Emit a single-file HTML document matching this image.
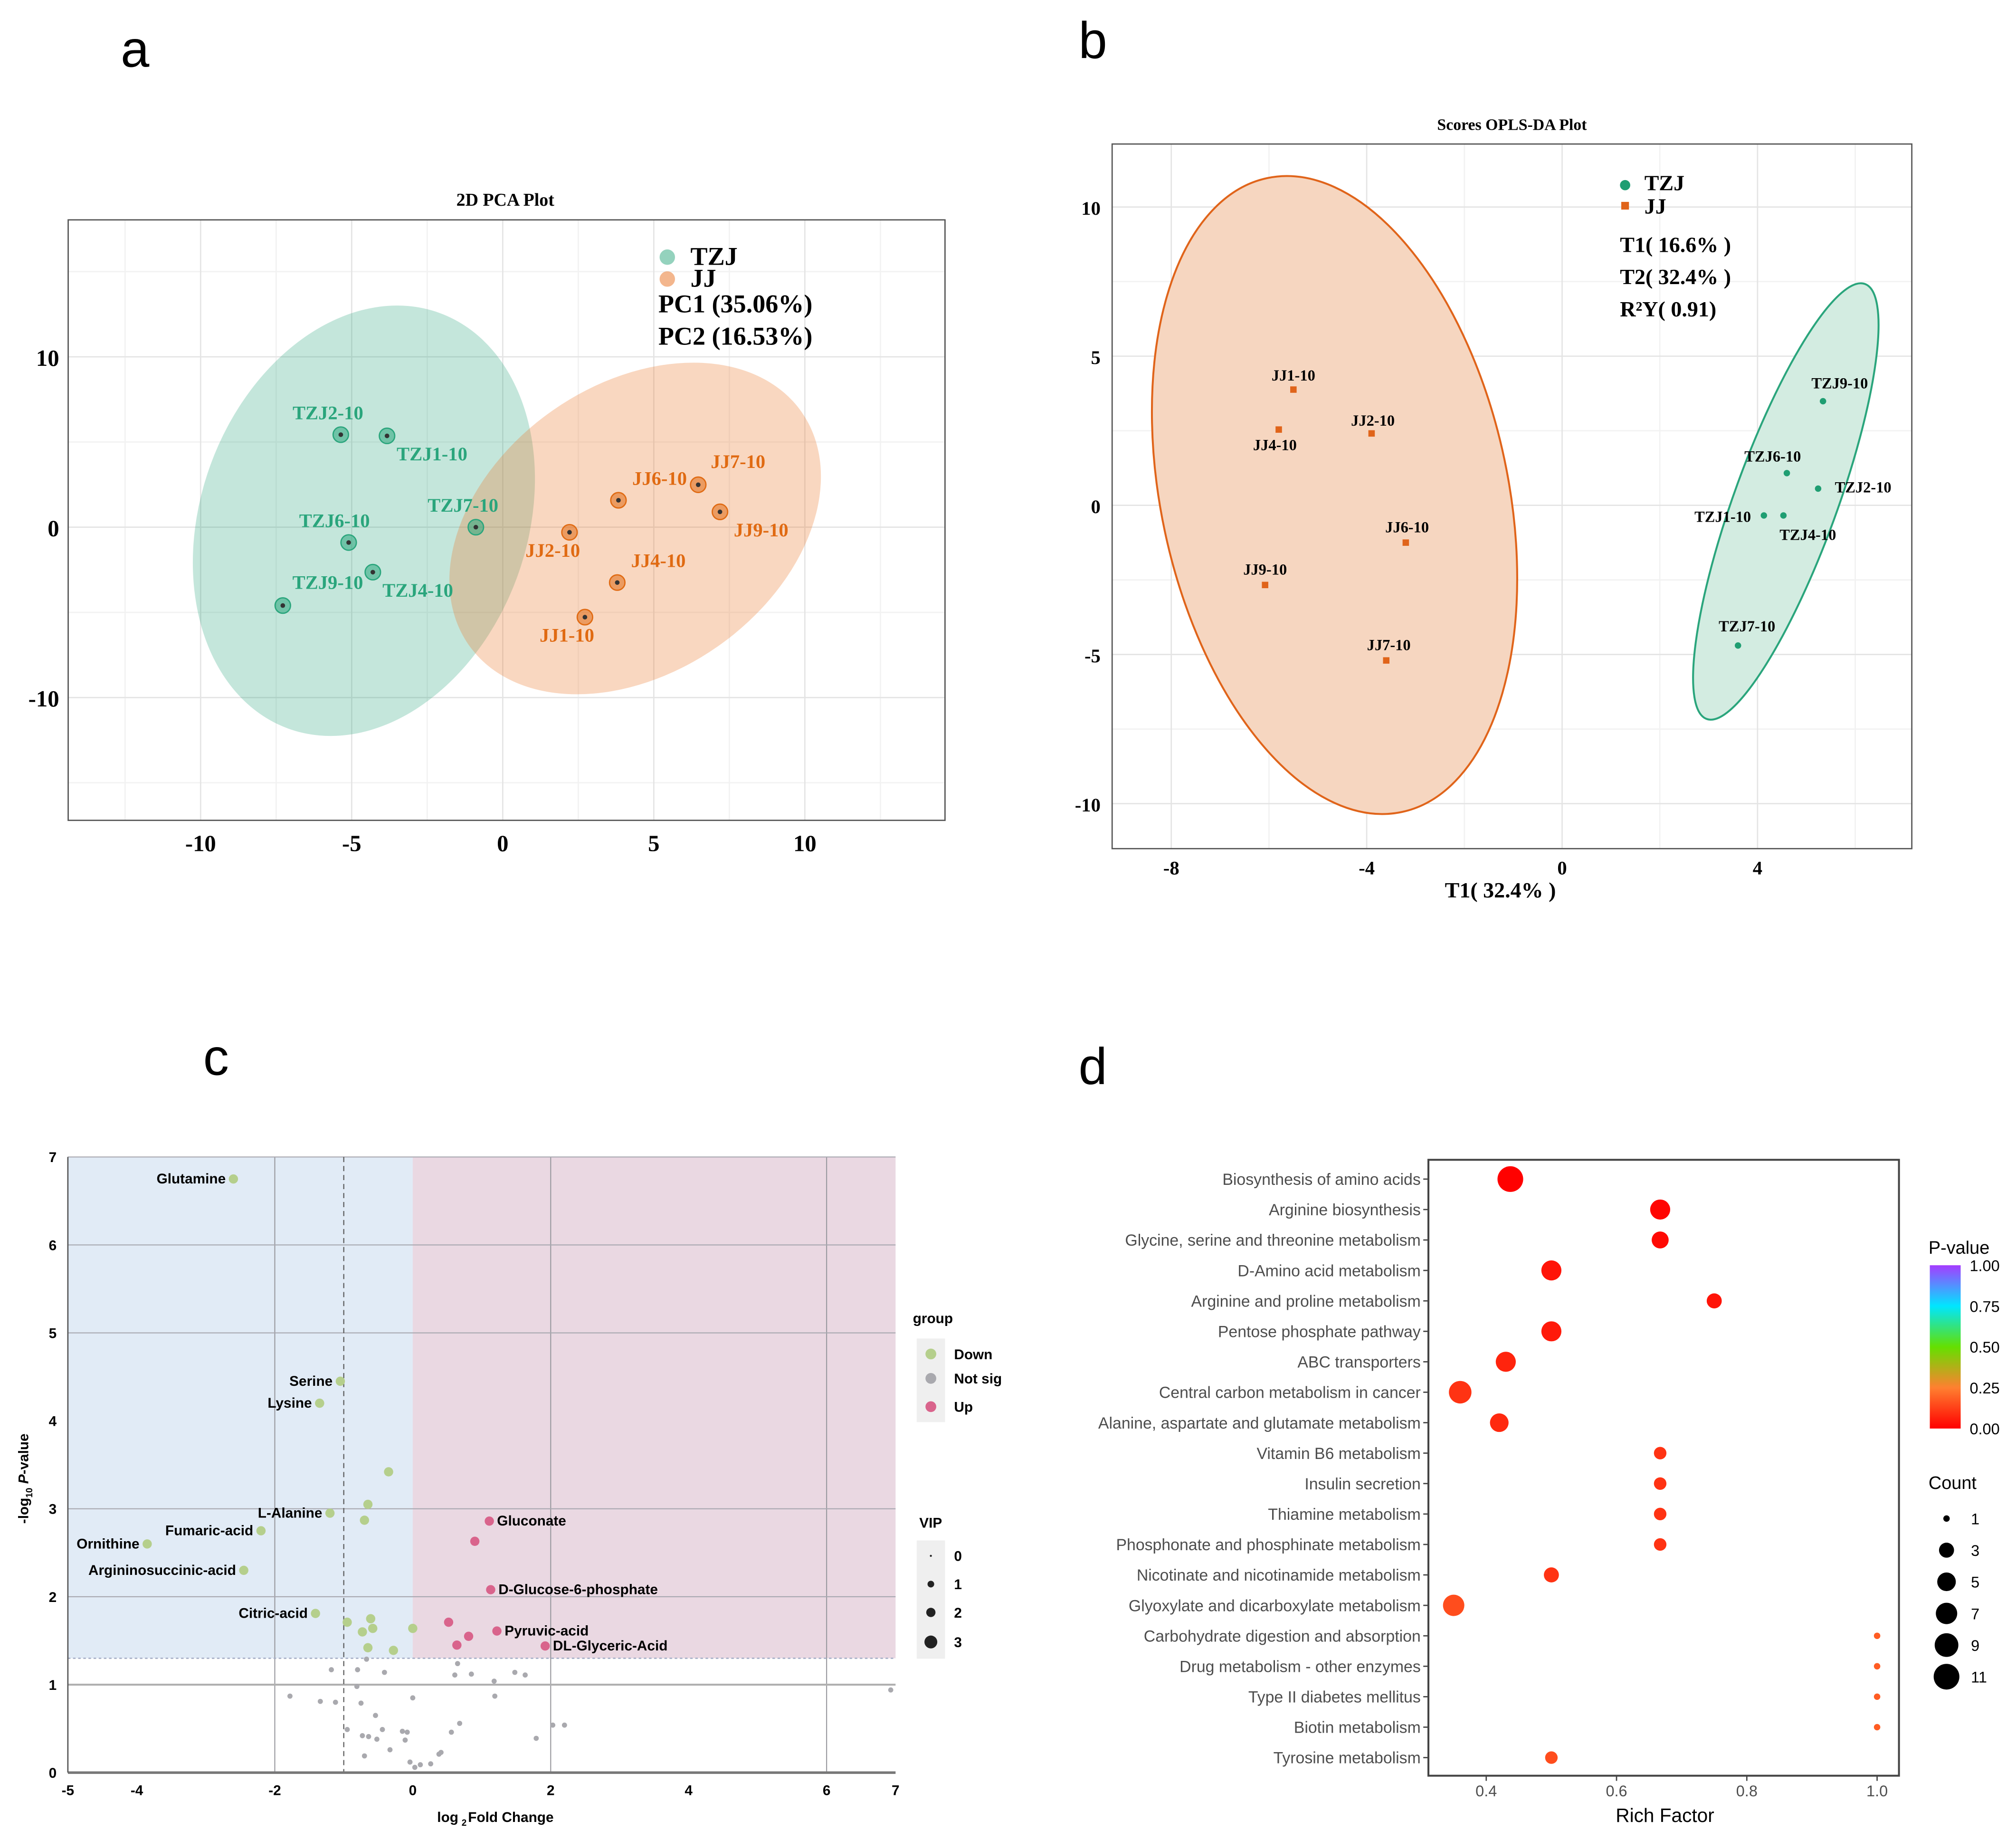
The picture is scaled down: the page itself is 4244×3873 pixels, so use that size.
<!DOCTYPE html>
<html><head><meta charset="utf-8"><style>
html,body{margin:0;padding:0;background:#fff}
svg{display:block}
.ser{font-family:"Liberation Serif",serif;font-weight:bold}
.san{font-family:"Liberation Sans",sans-serif}
</style></head><body>
<svg id="fig" width="4244" height="3873" viewBox="0 0 1568 1431" xmlns="http://www.w3.org/2000/svg">
<rect width="1568" height="1431" fill="#fff"/>
</svg>
<script>
// ---------- Panel a data (PCA) ----------
const pcaNames = ["TZJ2-10","TZJ1-10","TZJ7-10","TZJ6-10","TZJ4-10","TZJ9-10","JJ6-10","JJ7-10","JJ9-10","JJ2-10","JJ4-10","JJ1-10"];
const pcaGroup = ["TZJ","TZJ","TZJ","TZJ","TZJ","TZJ","JJ","JJ","JJ","JJ","JJ","JJ"];
const pcaPC1 = [-5.36,-3.83,-0.89,-5.1,-4.3,-7.28,3.83,6.47,7.19,2.21,3.79,2.72];
const pcaPC2 = [5.43,5.36,0.0,-0.9,-2.64,-4.6,1.58,2.49,0.9,-0.3,-3.25,-5.28];
const pcaXTicks = [-10,-5,0,5,10];
const pcaYTicks = [-10,0,10];
// ---------- Panel b data (OPLS-DA) ----------
const oplsNames = ["JJ1-10","JJ4-10","JJ2-10","JJ6-10","JJ9-10","JJ7-10","TZJ9-10","TZJ6-10","TZJ2-10","TZJ1-10","TZJ4-10","TZJ7-10"];
const oplsGroup = ["JJ","JJ","JJ","JJ","JJ","JJ","TZJ","TZJ","TZJ","TZJ","TZJ","TZJ"];
const oplsT1 = [-5.5,-5.8,-3.9,-3.2,-6.08,-3.6,5.34,4.6,5.24,4.13,4.53,3.6];
const oplsT2 = [3.88,2.54,2.41,-1.25,-2.67,-5.2,3.49,1.08,0.56,-0.34,-0.34,-4.7];
const oplsXTicks = [-8,-4,0,4];
const oplsYTicks = [-10,-5,0,5,10];
// ---------- Panel c data (volcano) ----------
const volLabels = ["Glutamine","Serine","Lysine","","","L-Alanine","","Fumaric-acid","Ornithine","Argininosuccinic-acid","Citric-acid","","","","","","","",
 "Gluconate","","D-Glucose-6-phosphate","","Pyruvic-acid","","","DL-Glyceric-Acid"];
const volGroup = ["Down","Down","Down","Down","Down","Down","Down","Down","Down","Down","Down","Down","Down","Down","Down","Down","Down","Down",
 "Up","Up","Up","Up","Up","Up","Up","Up"];
const volFC = [-2.6,-1.05,-1.35,-0.35,-0.65,-1.2,-0.7,-2.2,-3.85,-2.45,-1.41,-0.95,-0.61,-0.73,-0.58,0.0,-0.65,-0.28,
 1.11,0.9,1.13,0.52,1.22,0.81,0.64,1.92];
const volP = [6.75,4.45,4.2,3.42,3.05,2.95,2.87,2.75,2.6,2.3,1.81,1.71,1.75,1.6,1.64,1.64,1.42,1.39,
 2.86,2.63,2.08,1.71,1.61,1.55,1.45,1.44];
const nsFC = [-0.67,0.65,-1.18,-0.8,-0.41,0.61,0.85,1.48,1.63,1.18,-0.81,6.93,-1.78,0,1.19,-1.34,-1.12,-0.75,-0.54,0.68,2.03,2.2,-0.95,-0.44,-0.15,-0.08,0.56,-0.73,-0.64,-0.52,-0.11,1.79,-0.33,0.41,0.38,-0.7,-0.04,0.11,0.26,0.03];
const nsP = [1.29,1.24,1.17,1.17,1.14,1.11,1.12,1.14,1.11,1.04,0.98,0.94,0.87,0.85,0.87,0.81,0.8,0.79,0.65,0.56,0.54,0.54,0.49,0.49,0.47,0.46,0.46,0.42,0.41,0.38,0.37,0.39,0.26,0.23,0.21,0.19,0.12,0.09,0.1,0.06];
const volXTicks = [-5,-4,-2,0,2,4,6,7];
const volYTicks = [0,1,2,3,4,5,6,7];
// ---------- Panel d data (KEGG enrichment) ----------
const keggPath = ["Biosynthesis of amino acids","Arginine biosynthesis","Glycine, serine and threonine metabolism","D-Amino acid metabolism","Arginine and proline metabolism","Pentose phosphate pathway","ABC transporters","Central carbon metabolism in cancer","Alanine, aspartate and glutamate metabolism","Vitamin B6 metabolism","Insulin secretion","Thiamine metabolism","Phosphonate and phosphinate metabolism","Nicotinate and nicotinamide metabolism","Glyoxylate and dicarboxylate metabolism","Carbohydrate digestion and absorption","Drug metabolism - other enzymes","Type II diabetes mellitus","Biotin metabolism","Tyrosine metabolism"];
const keggRich = [0.437,0.667,0.667,0.5,0.75,0.5,0.43,0.36,0.42,0.667,0.667,0.667,0.667,0.5,0.35,1.0,1.0,1.0,1.0,0.5];
const keggCount = [11,6,4,6,3,6,6,8,5,2,2,2,2,3,7,1,1,1,1,2];
const keggP = [0.001,0.01,0.02,0.04,0.04,0.05,0.07,0.1,0.08,0.1,0.1,0.1,0.1,0.1,0.15,0.18,0.18,0.18,0.18,0.15];
const keggXTicks = [0.4,0.6,0.8,1.0];
const countLegend = [1,3,5,7,9,11];
const pLegendTicks = [1.00,0.75,0.50,0.25,0.00];

const NS="http://www.w3.org/2000/svg";
const svg=document.getElementById('fig');
function mk(tag,attrs,parent){const e=document.createElementNS(NS,tag);for(const k in attrs)e.setAttribute(k,attrs[k]);(parent||svg).appendChild(e);return e;}
function tx(str,attrs,parent){const e=mk('text',attrs,parent);e.textContent=str;return e;}
let e;

// ================= PANEL A =================
const ax=v=>391+v*23.5, ay=v=>410-v*13.25;
const gA=mk('g',{});


e=tx('a',{x:105,y:52,'font-size':40,'text-anchor':'middle',class:'san'},gA);


e=tx('2D PCA Plot',{x:393,y:160,'font-size':14,'text-anchor':'middle',class:'ser'},gA);


for(let v=-12.5;v<=12.5;v+=5){e=mk('line',{x1:ax(v),x2:ax(v),y1:171,y2:638,stroke:'#f2f2f2','stroke-width':1},gA);

}
for(let v=-15;v<=15;v+=10){e=mk('line',{x1:53,x2:735,y1:ay(v),y2:ay(v),stroke:'#f2f2f2','stroke-width':1},gA);

}
pcaXTicks.forEach(v=>{e=mk('line',{x1:ax(v),x2:ax(v),y1:171,y2:638,stroke:'#e4e4e4','stroke-width':1},gA);


e=tx(String(v),{x:ax(v),y:662,'font-size':18,'text-anchor':'middle',class:'ser'},gA);

});
pcaYTicks.forEach(v=>{e=mk('line',{x1:53,x2:735,y1:ay(v),y2:ay(v),stroke:'#e4e4e4','stroke-width':1},gA);


e=tx(String(v),{x:46,y:ay(v)+7,'font-size':18,'text-anchor':'end',class:'ser'},gA);

});
e=mk('ellipse',{cx:283,cy:405,rx:127,ry:172,transform:'rotate(20 283 405)',fill:'#2aa57c','fill-opacity':0.28},gA);


e=mk('ellipse',{cx:494,cy:411,rx:158,ry:112,transform:'rotate(-35 494 411)',fill:'#ea7a30','fill-opacity':0.3},gA);


const pcaOff=[[-10,-12],[35,19],[-10,-12],[-11,-12],[35,19],[35,-13],[32,-12],[31,-13],[32,19],[-13,19],[32,-12],[-14,19]];
pcaNames.forEach((n,i)=>{const c=pcaGroup[i]==='TZJ'?'#2aa57c':'#e06a12';const x=ax(pcaPC1[i]),y=ay(pcaPC2[i]);
e=mk('circle',{cx:x,cy:y,r:6,fill:c,'fill-opacity':0.55,stroke:c,'stroke-width':1},gA);


mk('circle',{cx:x,cy:y,r:1.8,fill:'#333'},gA);
e=tx(n,{x:x+pcaOff[i][0],y:y+pcaOff[i][1],'font-size':15,'text-anchor':'middle',fill:c,class:'ser'},gA);

});
e=mk('rect',{x:53,y:171,width:682,height:467,fill:'none',stroke:'#555','stroke-width':1},gA);


e=mk('circle',{cx:519,cy:200,r:6,fill:'#2aa57c','fill-opacity':0.5},gA);


e=tx('TZJ',{x:537,y:206,'font-size':20,class:'ser'},gA);


e=mk('circle',{cx:519,cy:217,r:6,fill:'#ea7a30','fill-opacity':0.55},gA);


e=tx('JJ',{x:537,y:223,'font-size':20,class:'ser'},gA);


e=tx('PC1 (35.06%)',{x:512,y:243,'font-size':20,class:'ser'},gA);


e=tx('PC2 (16.53%)',{x:512,y:268,'font-size':20,class:'ser'},gA);



// ================= PANEL B =================
const bx=v=>1215+v*38, by=v=>393-v*23.2;
const gB=mk('g',{});


e=tx('b',{x:850,y:45,'font-size':40,'text-anchor':'middle',class:'san'},gB);


e=tx('Scores OPLS-DA Plot',{x:1176,y:101,'font-size':12.5,'text-anchor':'middle',class:'ser'},gB);


[-6,-2,2,6].forEach(v=>{e=mk('line',{x1:bx(v),x2:bx(v),y1:112,y2:660,stroke:'#f2f2f2'},gB);

});
[-7.5,-2.5,2.5,7.5].forEach(v=>{e=mk('line',{x1:865,x2:1487,y1:by(v),y2:by(v),stroke:'#f2f2f2'},gB);

});
oplsXTicks.forEach(v=>{e=mk('line',{x1:bx(v),x2:bx(v),y1:112,y2:660,stroke:'#e4e4e4'},gB);


e=tx(String(v),{x:bx(v),y:680,'font-size':15,'text-anchor':'middle',class:'ser'},gB);

});
oplsYTicks.forEach(v=>{e=mk('line',{x1:865,x2:1487,y1:by(v),y2:by(v),stroke:'#e4e4e4'},gB);


e=tx(String(v),{x:856,y:by(v)+6,'font-size':15,'text-anchor':'end',class:'ser'},gB);

});
e=mk('ellipse',{cx:1038,cy:385,rx:135,ry:252,transform:'rotate(-12 1038 385)',fill:'#f6d6c0',stroke:'#e0641a','stroke-width':1.5},gB);


e=mk('ellipse',{cx:1389,cy:390,rx:40,ry:180,transform:'rotate(20 1389 390)',fill:'#d3ece1',stroke:'#2aa57c','stroke-width':1.5},gB);


const oplsOff=[[0,-7],[-3,16],[1,-6],[1,-8],[0,-8],[2,-8],[13,-10],[-11,-9],[35,3],[-32,5],[19,19],[7,-11]];
oplsNames.forEach((n,i)=>{const x=bx(oplsT1[i]),y=by(oplsT2[i]);
if(oplsGroup[i]==='JJ'){e=mk('rect',{x:x-2.5,y:y-2.5,width:5,height:5,fill:'#e0641a'},gB);}
else{e=mk('circle',{cx:x,cy:y,r:2.5,fill:'#1f9e72'},gB);}


e=tx(n,{x:x+oplsOff[i][0],y:y+oplsOff[i][1],'font-size':12,'text-anchor':'middle',class:'ser'},gB);

});
e=mk('rect',{x:865,y:112,width:622,height:548,fill:'none',stroke:'#555'},gB);


e=mk('circle',{cx:1264,cy:144,r:4,fill:'#1f9e72'},gB);


e=tx('TZJ',{x:1279,y:148,'font-size':17,class:'ser'},gB);


e=mk('rect',{x:1261,y:157,width:6,height:6,fill:'#e0641a'},gB);


e=tx('JJ',{x:1279,y:166,'font-size':17,class:'ser'},gB);


e=tx('T1( 16.6% )',{x:1260,y:196,'font-size':17,class:'ser'},gB);


e=tx('T2( 32.4% )',{x:1260,y:221,'font-size':17,class:'ser'},gB);


e=tx('R\u00B2Y( 0.91)',{x:1260,y:246,'font-size':17,class:'ser'},gB);


e=tx('T1( 32.4% )',{x:1167,y:698,'font-size':17,'text-anchor':'middle',class:'ser'},gB);



// ================= PANEL C =================
const cx=v=>321+v*53.65, cy=v=>1378.6-v*68.4;
const gC=mk('g',{});


e=tx('c',{x:168,y:836,'font-size':40,'text-anchor':'middle',class:'san'},gC);


e=mk('rect',{x:cx(-5),y:cy(7),width:cx(0)-cx(-5),height:cy(1.3)-cy(7),fill:'#e1ebf6'},gC);


e=mk('rect',{x:cx(0),y:cy(7),width:cx(7)-cx(0),height:cy(1.3)-cy(7),fill:'#ead8e2'},gC);


[-2,2,6].forEach(v=>{e=mk('line',{x1:cx(v),x2:cx(v),y1:cy(7),y2:cy(0),stroke:'#9a9aa0','stroke-width':0.8},gC);

});
[1,2,3,5,6,7].forEach(v=>{e=mk('line',{x1:cx(-5),x2:cx(7),y1:cy(v),y2:cy(v),stroke:v===1?'#b0b0b0':'#a8a8b0','stroke-width':v===1?1.5:0.8},gC);

});
e=mk('line',{x1:cx(-5),x2:cx(7),y1:cy(1.3),y2:cy(1.3),stroke:'#a8b0c8','stroke-width':1,'stroke-dasharray':'2 2'},gC);


e=mk('line',{x1:cx(-1),x2:cx(-1),y1:cy(7),y2:cy(0),stroke:'#555','stroke-width':0.8,'stroke-dasharray':'4 3'},gC);


e=mk('line',{x1:cx(-5),x2:cx(7),y1:cy(0),y2:cy(0),stroke:'#777','stroke-width':2},gC);


e=mk('line',{x1:cx(-5),x2:cx(-5),y1:cy(7),y2:cy(0),stroke:'#555','stroke-width':1},gC);


volXTicks.forEach(v=>{e=tx(String(v),{x:cx(v),y:1396,'font-size':11,'font-weight':'bold','text-anchor':'middle',class:'san'},gC);

});
volYTicks.forEach(v=>{e=tx(String(v),{x:44,y:cy(v)+4,'font-size':11,'font-weight':'bold','text-anchor':'end',class:'san'},gC);

});
nsFC.forEach((v,i)=>{e=mk('circle',{cx:cx(v),cy:cy(nsP[i]),r:2,fill:'#a9a9ae'},gC);

});
volFC.forEach((v,i)=>{const x=cx(v),y=cy(volP[i]);
e=mk('circle',{cx:x,cy:y,r:3.6,fill:volGroup[i]==='Up'?'#d9648c':'#b5cf8c'},gC);


if(volLabels[i]){const right=volGroup[i]==='Up';
e=tx(volLabels[i],{x:right?x+6:x-6,y:y+3.5,'font-size':11,'font-weight':'bold','text-anchor':right?'start':'end',class:'san'},gC);

}});
e=tx('log',{x:340,y:1417,'font-size':11,'font-weight':'bold',class:'san'},gC);


tx('2',{x:359,y:1420,'font-size':7,'font-weight':'bold',class:'san'},gC);
tx('Fold Change',{x:364,y:1417,'font-size':11,'font-weight':'bold',class:'san'},gC);
e=mk('text',{x:0,y:0,transform:'translate(22,1185) rotate(-90)','font-size':11,'font-weight':'bold',class:'san'},gC);
e.innerHTML='-log<tspan font-size="7" dy="3">10</tspan><tspan dy="-3"> </tspan><tspan font-style="italic">P</tspan>-value';


e=tx('group',{x:710,y:1029,'font-size':11,'font-weight':'bold',class:'san'},gC);


mk('rect',{x:713,y:1041,width:22,height:65,fill:'#efefef'},gC);
[['Down','#b5cf8c',1053],['Not sig','#a9a9ae',1072],['Up','#d9648c',1094]].forEach(d=>{
e=mk('circle',{cx:724,cy:d[2],r:4.2,fill:d[1]},gC);


e=tx(d[0],{x:742,y:d[2]+4,'font-size':11,'font-weight':'bold',class:'san'},gC);

});
e=tx('VIP',{x:715,y:1188,'font-size':11,'font-weight':'bold',class:'san'},gC);


mk('rect',{x:713,y:1198,width:22,height:92,fill:'#efefef'},gC);
[[0,0.8,1210],[1,2.6,1232],[2,3.6,1254],[3,5,1277]].forEach(d=>{
e=mk('circle',{cx:724,cy:d[2],r:d[1],fill:'#222'},gC);


e=tx(String(d[0]),{x:742,y:d[2]+4,'font-size':11,'font-weight':'bold',class:'san'},gC);

});

// ================= PANEL D =================
const dx=v=>953.3+v*506.7, dy=i=>917+i*23.68;
const stops=[[0,[255,0,0]],[0.25,[255,128,48]],[0.5,[100,224,0]],[0.75,[0,230,255]],[1,[165,60,255]]];
function pcol(p){for(let k=0;k<stops.length-1;k++){const a=stops[k],b=stops[k+1];if(p<=b[0]){const t=(p-a[0])/(b[0]-a[0]);return 'rgb('+a[1].map((c,j)=>Math.round(c+(b[1][j]-c)*t)).join(',')+')';}}return 'rgb(165,60,255)';}
function crad(c){return 2.5+7.5*Math.sqrt((c-1)/10);}
const gD=mk('g',{});


e=tx('d',{x:850,y:843,'font-size':40,'text-anchor':'middle',class:'san'},gD);


e=mk('rect',{x:1111,y:902,width:366,height:479,fill:'#fff',stroke:'#444','stroke-width':1.5},gD);


keggPath.forEach((n,i)=>{mk('line',{x1:1107,x2:1111,y1:dy(i),y2:dy(i),stroke:'#444'},gD);
e=tx(n,{x:1105,y:dy(i)+4.5,'font-size':12.5,'text-anchor':'end',fill:'#4d4d4d',class:'san'},gD);


e=mk('circle',{cx:dx(keggRich[i]),cy:dy(i),r:crad(keggCount[i]),fill:pcol(keggP[i])},gD);

});
keggXTicks.forEach(v=>{mk('line',{x1:dx(v),x2:dx(v),y1:1381,y2:1385,stroke:'#444'},gD);
e=tx(v.toFixed(1),{x:dx(v),y:1397,'font-size':12,'text-anchor':'middle',fill:'#4d4d4d',class:'san'},gD);

});
e=tx('Rich Factor',{x:1295,y:1417,'font-size':15,'text-anchor':'middle',class:'san'},gD);


e=tx('P-value',{x:1500,y:975,'font-size':14,class:'san'},gD);


const defs=mk('defs',{});
const lg=mk('linearGradient',{id:'pg',x1:0,y1:1,x2:0,y2:0},defs);
stops.forEach(s=>mk('stop',{offset:s[0],'stop-color':'rgb('+s[1].join(',')+')'},lg));
e=mk('rect',{x:1501,y:984,width:24,height:127,fill:'url(#pg)'},gD);


pLegendTicks.forEach(v=>{const y=984+(1-v)*127;
e=tx(v.toFixed(2),{x:1532,y:y+4.5,'font-size':12,class:'san'},gD);

});
e=tx('Count',{x:1500,y:1158,'font-size':14,class:'san'},gD);


countLegend.forEach((c,k)=>{const y=1181+k*24.6;
e=mk('circle',{cx:1514,cy:y,r:crad(c),fill:'#000'},gD);


e=tx(String(c),{x:1533,y:y+4.5,'font-size':12,class:'san'},gD);

});
</script>
</body></html>
